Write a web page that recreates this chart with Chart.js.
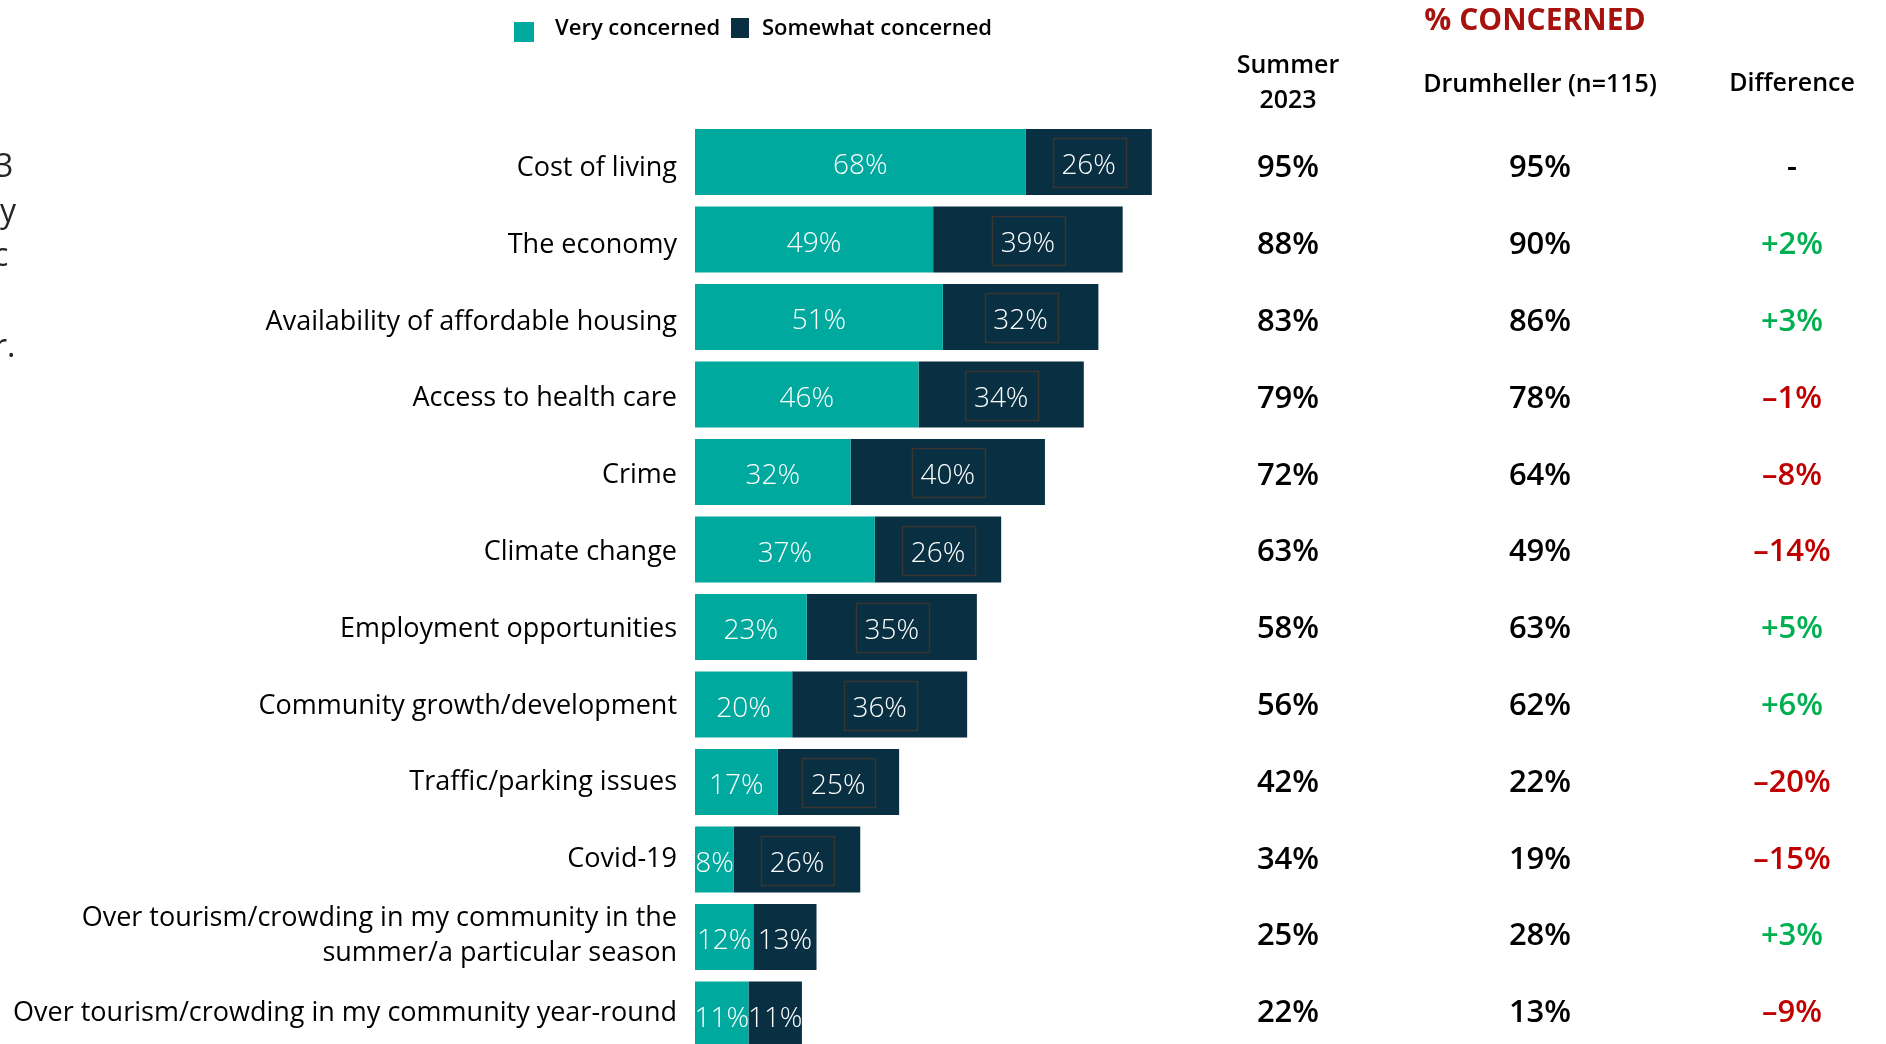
<!DOCTYPE html>
<html>
<head>
<meta charset="utf-8">
<script src="https://cdn.jsdelivr.net/npm/chart.js@4.4.1/dist/chart.umd.min.js"></script>
<style>
    html, body { margin: 0; padding: 0; background: #ffffff; overflow: hidden; }
    #concernChart { display: block; }
</style>
</head>
<body>
<canvas id="concernChart" width="1886" height="1064"></canvas>
<script>
const categories = [
    "Cost of living",
    "The economy",
    "Availability of affordable housing",
    "Access to health care",
    "Crime",
    "Climate change",
    "Employment opportunities",
    "Community growth/development",
    "Traffic/parking issues",
    "Covid-19",
    ["Over tourism/crowding in my community in the", "summer/a particular season"],
    "Over tourism/crowding in my community year-round"
];
const veryConcerned = [68, 49, 51, 46, 32, 37, 23, 20, 17, 8, 12, 11];
const somewhatConcerned = [26, 39, 32, 34, 40, 26, 35, 36, 25, 26, 13, 11];
const summer2023 = [95, 88, 83, 79, 72, 63, 58, 56, 42, 34, 25, 22];
const drumheller = [95, 90, 86, 78, 64, 49, 63, 62, 22, 19, 28, 13];
const difference = [0, 2, 3, -1, -8, -14, 5, 6, -20, -15, 3, -9];
const seriesNames = ["Very concerned", "Somewhat concerned"];
const columnHeaders = [["Summer", "2023"], ["Drumheller (n=115)"], ["Difference"]];

const FONT = "'Open Sans', 'Noto Sans', sans-serif";
// text rows (labels + table) sit on their own slightly tighter rhythm than the bars
const TEXT_TOP = 166.3;
const TEXT_PITCH = 76.8;

function pct(v) {
    return `${v}%`;
}

function diffText(v) {
    if (!v) return "-";
    return v > 0 ? `+${v}%` : `\u2013${Math.abs(v)}%`;
}

function textRowY(i) {
    return TEXT_TOP + i * TEXT_PITCH;
}

// white value labels inside each stacked segment, boxed on the dark ones when there is room
const segmentLabels = {
    id: "segmentLabels",
    afterDatasetsDraw(chart) {
        const { ctx } = chart;
        ctx.save();
        ctx.font = `300 28px ${FONT}`;
        ctx.textAlign = "center";
        ctx.textBaseline = "alphabetic";
        chart.data.datasets.forEach((dataset, di) => {
            const meta = chart.getDatasetMeta(di);
            meta.data.forEach((bar, i) => {
                const { x, base, y } = bar.getProps(["x", "base", "y"], true);
                const cx = (x + base) / 2;
                if (di === 1 && x - base > 85) {
                    ctx.strokeStyle = "#3b3532";
                    ctx.lineWidth = 1.5;
                    ctx.strokeRect(Math.round(cx - 36) + 0.5, Math.round(y - 24) + 0.5, 73, 49);
                }
                ctx.fillStyle = "#ffffff";
                ctx.fillText(pct(dataset.data[i]), cx, y + 12);
            });
        });
        ctx.restore();
    }
};

// category names, right aligned against the bars
const categoryLabels = {
    id: "categoryLabels",
    afterDraw(chart) {
        const { ctx } = chart;
        const right = chart.chartArea.left - 18;
        ctx.save();
        ctx.font = `400 27px ${FONT}`;
        ctx.fillStyle = "#000000";
        ctx.textAlign = "right";
        ctx.textBaseline = "alphabetic";
        chart.data.labels.forEach((label, i) => {
            const lines = Array.isArray(label) ? label : [label];
            const mid = textRowY(i);
            lines.forEach((line, li) => {
                const cy = mid + (li - (lines.length - 1) / 2) * 35;
                ctx.fillText(line, right, cy + 9.6);
            });
        });
        ctx.restore();
    }
};

// the "% concerned" comparison table on the right
const concernTable = {
    id: "concernTable",
    afterDraw(chart) {
        const { ctx } = chart;
        const cols = [1288, 1540, 1792];
        ctx.save();
        ctx.textAlign = "center";
        ctx.textBaseline = "middle";

        ctx.fillStyle = "#a6120d";
        ctx.font = `700 30px ${FONT}`;
        ctx.fillText("% CONCERNED", 1535, 21);

        ctx.fillStyle = "#000000";
        ctx.font = `600 25px ${FONT}`;
        ctx.fillText(columnHeaders[0][0], cols[0], 66);
        ctx.fillText(columnHeaders[0][1], cols[0], 101);
        ctx.fillText(columnHeaders[1][0], cols[1], 85);
        ctx.fillText(columnHeaders[2][0], cols[2], 84);

        ctx.font = `600 31px ${FONT}`;
        ctx.textBaseline = "alphabetic";
        categories.forEach((c, i) => {
            const y = textRowY(i) + 11;
            ctx.fillStyle = "#000000";
            ctx.fillText(pct(summer2023[i]), cols[0], y);
            ctx.fillText(pct(drumheller[i]), cols[1], y);
            const d = difference[i];
            ctx.fillStyle = d > 0 ? "#00b050" : (d < 0 ? "#c00000" : "#000000");
            ctx.fillText(diffText(d), cols[2], y);
        });
        ctx.restore();
    }
};

// legend across the top plus the clipped slide text at the left edge
const topLegend = {
    id: "topLegend",
    afterDraw(chart) {
        const { ctx } = chart;
        const ds = chart.data.datasets;
        ctx.save();
        ctx.textBaseline = "middle";
        ctx.textAlign = "left";
        ctx.font = `600 22px ${FONT}`;
        ctx.fillStyle = ds[0].backgroundColor;
        ctx.fillRect(514, 22, 20, 20);
        ctx.fillStyle = "#000000";
        ctx.fillText(ds[0].label, 555, 29);
        ctx.fillStyle = ds[1].backgroundColor;
        ctx.fillRect(731, 18, 18, 20);
        ctx.fillStyle = "#000000";
        ctx.fillText(ds[1].label, 762, 29);

        ctx.fillStyle = "#262626";
        ctx.font = `400 32px ${FONT}`;
        ctx.textBaseline = "alphabetic";
        ctx.fillText("3", -5, 177);
        ctx.fillText("y", 0, 222);
        ctx.fillText("c", -7, 266);
        ctx.fillText("r.", -6, 357);
        ctx.restore();
    }
};

const chartConcern = new Chart(document.getElementById("concernChart"), {
    type: "bar",
    plugins: [segmentLabels, categoryLabels, concernTable, topLegend],
    data: {
        labels: categories,
        datasets: [
            { label: seriesNames[0], data: veryConcerned, backgroundColor: "#00a99d", borderWidth: 0, barPercentage: 0.852, categoryPercentage: 1 },
            { label: seriesNames[1], data: somewhatConcerned, backgroundColor: "#082f42", borderWidth: 0, barPercentage: 0.852, categoryPercentage: 1 }
        ]
    },
    options: {
        indexAxis: "y",
        responsive: false,
        animation: false,
        layout: { padding: { top: 123.25, bottom: 10.75, left: 0, right: 705 } },
        plugins: { legend: { display: false }, tooltip: { enabled: false } },
        scales: {
            x: { stacked: true, min: 0, max: 100, display: false },
            y: {
                stacked: true,
                grid: { display: false, drawTicks: false },
                border: { display: false },
                ticks: { display: false },
                afterFit(scale) {
                    scale.width = 695;
                    scale.paddingTop = 0;
                    scale.paddingBottom = 0;
                }
            }
        }
    }
});
</script>
</body>
</html>
